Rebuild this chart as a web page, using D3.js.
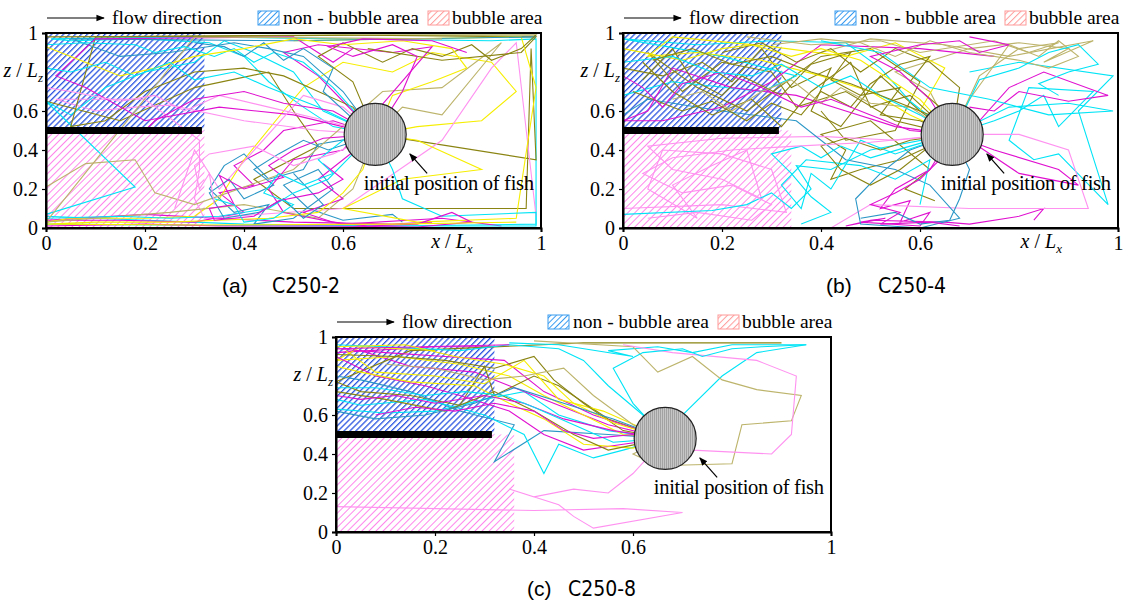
<!DOCTYPE html>
<html>
<head>
<meta charset="utf-8">
<script src="https://cdn.jsdelivr.net/npm/d3@7"></script>
<style>
	body { margin: 0; background: #fff; }
</style>
</head>
<body>
<div id="vis"></div>
<script>
// declare constants
const FRAME_WIDTH = 1123;
const FRAME_HEIGHT = 602;
const VIS_WIDTH = 495;
const VIS_HEIGHT = 195;
const SERIF = "Liberation Serif, Times New Roman, serif";

// axis ticks
const X_TICKS = [0, 0.2, 0.4, 0.6, 1];
const Y_TICKS = [0, 0.2, 0.4, 0.6, 1];

// regions (x/Lx, z/Lz)
const NON_BUBBLE_A = [[0, 0.5], [0.32, 1]];
const NON_BUBBLE_B = [[0, 0.5], [0.32, 1]];
const NON_BUBBLE_C = [[0, 0.5], [0.32, 1]];
const BUBBLE_A = [[0, 0], [0.32, 0.5]];
const BUBBLE_B = [[0, 0], [0.34, 0.5]];
const BUBBLE_C = [[0, 0], [0.36, 0.5]];
const PLATE = [[0, 0.5], [0.315, 0.5]];
const FISH_POS = [0.665, 0.48];
const ARROW_FROM = [0.77, 0.28];
const ARROW_TO = [0.735, 0.38];
const FISH_LABEL_POS = [0.642, 0.195];

// colours of the fish tracks
const COLORS = {
	cyan: "#00e4f6",
	magenta: "#e010d0",
	yellow: "#f6ee00",
	olive: "#8a8412",
	khaki: "#bdb46c",
	pink: "#ff92f0",
	teal: "#2a96c6"
};

// tracks, case C250-2
const TRACKS_A = [
	{c: "cyan", p: [[0.665,0.48],[0.58,0.52],[0.52,0.62],[0.45,0.75],[0.40,0.88],[0.33,0.95],[0.20,0.97],[0.05,0.96],[0.01,0.97],[0.30,0.98],[0.60,0.97],[0.90,0.96],[0.99,0.97],[0.99,0.02],[0.70,0.01],[0.40,0.02],[0.10,0.05],[0.0,0.06]]},
	{c: "magenta", p: [[0.665,0.48],[0.58,0.55],[0.48,0.50],[0.44,0.40],[0.38,0.32],[0.42,0.22],[0.35,0.18],[0.40,0.08],[0.30,0.03],[0.15,0.04],[0.0,0.04],[0.20,0.07],[0.50,0.03],[0.70,0.02],[0.78,0.03]]},
	{c: "yellow", p: [[0.665,0.48],[0.75,0.52],[0.88,0.55],[0.95,0.70],[0.90,0.85],[0.78,0.90],[0.70,0.80],[0.60,0.85],[0.52,0.72],[0.48,0.60],[0.40,0.35],[0.35,0.15],[0.30,0.06],[0.20,0.05],[0.05,0.05],[0.0,0.03]]},
	{c: "olive", p: [[0.665,0.48],[0.99,0.35],[0.98,0.92],[0.97,0.10],[0.50,0.10],[0.42,0.25],[0.55,0.42],[0.50,0.60],[0.45,0.80],[0.30,0.72],[0.15,0.55],[0.0,0.65]]},
	{c: "teal", p: [[0.665,0.48],[0.55,0.43],[0.52,0.30],[0.45,0.25],[0.40,0.38],[0.36,0.32],[0.33,0.20],[0.38,0.08],[0.45,0.12],[0.42,0.02],[0.50,0.05],[0.58,0.20],[0.55,0.30],[0.48,0.22],[0.53,0.10],[0.60,0.04],[0.70,0.07],[0.72,0.03]]},
	{c: "pink", p: [[0.665,0.48],[0.55,0.50],[0.40,0.55],[0.25,0.63],[0.18,0.62],[0.10,0.60],[0.02,0.66],[0.20,0.66],[0.31,0.45],[0.31,0.30],[0.30,0.15],[0.32,0.05],[0.60,0.10],[0.80,0.45],[0.90,0.82],[0.95,0.95],[0.99,0.06]]},
	{c: "khaki", p: [[0.665,0.48],[0.72,0.62],[0.80,0.58],[0.92,0.95],[0.80,0.72],[0.68,0.70],[0.50,0.30],[0.30,0.12],[0.22,0.18],[0.18,0.35],[0.08,0.33],[0.0,0.21]]},
	{c: "cyan", p: [[0.665,0.48],[0.56,0.60],[0.50,0.80],[0.42,0.90],[0.36,0.96],[0.30,0.85],[0.20,0.80],[0.12,0.72],[0.05,0.58],[0.0,0.65],[0.18,0.21],[0.0,0.07]]},
	{c: "magenta", p: [[0.665,0.48],[0.60,0.65],[0.55,0.78],[0.48,0.90],[0.55,0.94],[0.70,0.90],[0.78,0.93],[0.60,0.40],[0.50,0.35],[0.45,0.20],[0.48,0.08],[0.60,0.02],[0.80,0.05],[0.92,0.01]]},
	{c: "olive", p: [[0.665,0.48],[0.62,0.62],[0.55,0.70],[0.48,0.78],[0.40,0.82],[0.30,0.80],[0.20,0.70],[0.12,0.55],[0.05,0.52],[0.10,0.98],[0.60,0.99],[0.99,0.98],[0.96,0.90],[0.80,0.86],[0.65,0.92]]},
	{c: "yellow", p: [[0.665,0.48],[0.75,0.45],[0.88,0.30],[0.72,0.25],[0.60,0.10],[0.75,0.03],[0.95,0.05],[0.99,0.72],[0.96,0.98],[0.50,0.96]]},
	{c: "teal", p: [[0.665,0.48],[0.60,0.70],[0.52,0.88],[0.45,0.92],[0.38,0.95],[0.25,0.90],[0.15,0.88],[0.05,0.97],[0.50,0.96],[0.99,0.98]]},
	{c: "magenta", p: [[0.665,0.48],[0.50,0.58],[0.35,0.62],[0.20,0.55],[0.08,0.72],[0.02,0.78],[0.10,0.97],[0.50,0.98],[0.58,0.85],[0.62,0.92]]},
	{c: "cyan", p: [[0.665,0.48],[0.70,0.30],[0.72,0.15],[0.80,0.06],[0.99,0.08],[0.99,0.01],[0.50,0.01],[0.0,0.02]]},
	{c: "pink", p: [[0.665,0.48],[0.60,0.62],[0.52,0.68],[0.35,0.20],[0.30,0.40],[0.28,0.25],[0.26,0.10]]},
	{c: "khaki", p: [[0.665,0.48],[0.62,0.20],[0.55,0.05],[0.40,0.12],[0.25,0.08],[0.0,0.03],[0.30,0.98],[0.80,0.97]]},
	{c: "olive", p: [[0.665,0.48],[0.62,0.75],[0.55,0.88],[0.60,0.95],[0.68,0.85],[0.74,0.92],[0.80,0.88],[0.86,0.94],[0.90,0.86],[0.96,0.92],[0.99,0.99],[0.70,0.99],[0.40,0.985],[0.0,0.98]]},
	{c: "cyan", p: [[0.665,0.48],[0.58,0.72],[0.52,0.85],[0.46,0.90],[0.42,0.85],[0.38,0.92],[0.34,0.88],[0.28,0.93],[0.22,0.90],[0.18,0.94],[0.08,0.95],[0.0,0.94]]},
	{c: "teal", p: [[0.665,0.48],[0.62,0.56],[0.56,0.70],[0.58,0.82],[0.52,0.92],[0.48,0.86],[0.44,0.95],[0.40,0.88],[0.36,0.93],[0.30,0.95]]},
	{c: "yellow", p: [[0.665,0.48],[0.70,0.68],[0.78,0.75],[0.85,0.82],[0.82,0.92],[0.72,0.96],[0.60,0.94],[0.50,0.97],[0.40,0.92],[0.30,0.88],[0.22,0.82],[0.15,0.78],[0.05,0.88],[0.0,0.93]]},
	{c: "magenta", p: [[0.665,0.48],[0.72,0.70],[0.75,0.88],[0.70,0.94],[0.62,0.88],[0.57,0.93],[0.64,0.97],[0.78,0.96],[0.85,0.90]]},
	{c: "magenta", p: [[0.665,0.48],[0.60,0.35],[0.55,0.25],[0.60,0.15],[0.52,0.08],[0.58,0.03],[0.65,0.01],[0.75,0.02],[0.82,0.08],[0.86,0.03],[0.75,0.005],[0.55,0.01],[0.35,0.01],[0.20,0.02],[0.0,0.01]]},
	{c: "cyan", p: [[0.665,0.48],[0.62,0.38],[0.57,0.25],[0.50,0.18],[0.45,0.10],[0.35,0.06],[0.25,0.05],[0.15,0.06],[0.0,0.05]]},
	{c: "yellow", p: [[0.665,0.48],[0.64,0.30],[0.60,0.18],[0.55,0.08],[0.45,0.05],[0.35,0.04],[0.25,0.03],[0.10,0.03],[0.0,0.02],[0.30,0.015],[0.70,0.02],[0.95,0.03]]},
	{c: "teal", p: [[0.665,0.48],[0.57,0.40],[0.52,0.45],[0.47,0.38],[0.42,0.30],[0.46,0.22],[0.40,0.15],[0.37,0.25],[0.33,0.18],[0.36,0.05],[0.43,0.08],[0.48,0.15],[0.52,0.05],[0.56,0.12],[0.50,0.28]]},
	{c: "magenta", p: [[0.665,0.48],[0.56,0.46],[0.50,0.40],[0.45,0.32],[0.48,0.26],[0.40,0.20],[0.35,0.27],[0.38,0.12],[0.33,0.10],[0.34,0.04],[0.42,0.06],[0.47,0.14],[0.55,0.18],[0.60,0.25],[0.56,0.33]]},
	{c: "cyan", p: [[0.665,0.48],[0.60,0.45],[0.55,0.35],[0.58,0.28],[0.52,0.22],[0.47,0.28],[0.44,0.18],[0.50,0.12],[0.46,0.05],[0.40,0.03],[0.38,0.12],[0.34,0.15]]},
	{c: "pink", p: [[0.665,0.48],[0.58,0.38],[0.50,0.32],[0.42,0.42],[0.33,0.38],[0.30,0.32],[0.31,0.20],[0.33,0.28],[0.34,0.12]]},
	{c: "pink", p: [[0.665,0.48],[0.55,0.56],[0.45,0.62],[0.35,0.68],[0.28,0.60],[0.22,0.68],[0.15,0.65],[0.05,0.70],[0.0,0.72]]},
	{c: "cyan", p: [[0.665,0.48],[0.55,0.62],[0.45,0.72],[0.38,0.80],[0.30,0.76],[0.25,0.85],[0.18,0.78],[0.12,0.85],[0.05,0.80],[0.0,0.82]]},
	{c: "magenta", p: [[0.665,0.48],[0.58,0.60],[0.48,0.64],[0.40,0.70],[0.30,0.66],[0.22,0.55],[0.20,0.50]]}
];

// tracks, case C250-4
const TRACKS_B = [
	{c: "olive", p: [[0.665,0.48],[0.55,0.55],[0.45,0.70],[0.35,0.62],[0.30,0.80],[0.20,0.85],[0.12,0.70],[0.05,0.90],[0.15,0.72],[0.25,0.60],[0.40,0.88],[0.50,0.92],[0.60,0.75],[0.55,0.50],[0.45,0.45],[0.40,0.60]]},
	{c: "olive", p: [[0.665,0.48],[0.60,0.60],[0.52,0.78],[0.44,0.52],[0.38,0.60],[0.42,0.82],[0.34,0.72],[0.28,0.92],[0.22,0.75],[0.16,0.85],[0.08,0.78],[0.0,0.82]]},
	{c: "olive", p: [[0.665,0.48],[0.62,0.42],[0.56,0.35],[0.48,0.30],[0.42,0.25],[0.45,0.40],[0.40,0.48],[0.50,0.55],[0.62,0.30],[0.57,0.20],[0.63,0.14]]},
	{c: "khaki", p: [[0.665,0.48],[0.62,0.70],[0.55,0.80],[0.70,0.92],[0.80,0.95],[0.90,0.92],[0.85,0.85],[0.95,0.96],[0.78,0.88],[0.65,0.94],[0.50,0.97],[0.40,0.90]]},
	{c: "cyan", p: [[0.665,0.48],[0.75,0.55],[0.80,0.60],[0.85,0.68],[0.88,0.52],[0.95,0.70],[0.82,0.72],[0.78,0.45],[0.83,0.35],[0.88,0.38],[0.98,0.12],[0.92,0.60],[0.99,0.78],[0.80,0.85],[0.70,0.80]]},
	{c: "magenta", p: [[0.665,0.48],[0.72,0.55],[0.78,0.72],[0.85,0.80],[0.98,0.68],[0.90,0.65],[0.80,0.70],[0.75,0.60],[0.70,0.62]]},
	{c: "magenta", p: [[0.665,0.48],[0.62,0.30],[0.55,0.20],[0.52,0.10],[0.58,0.14],[0.56,0.03],[0.62,0.08],[0.60,0.01],[0.48,0.03],[0.53,0.05],[0.45,0.01],[0.50,0.04],[0.65,0.03],[0.70,0.02],[0.80,0.06],[0.85,0.10],[0.83,0.04]]},
	{c: "pink", p: [[0.665,0.48],[0.55,0.45],[0.40,0.47],[0.20,0.46],[0.05,0.42],[0.10,0.30],[0.20,0.25],[0.28,0.15],[0.25,0.40],[0.18,0.32],[0.10,0.22],[0.15,0.05],[0.05,0.20],[0.08,0.40],[0.20,0.38],[0.30,0.30],[0.33,0.08],[0.20,0.12],[0.0,0.10]]},
	{c: "pink", p: [[0.665,0.48],[0.80,0.48],[0.90,0.40],[0.94,0.10],[0.70,0.10],[0.50,0.12],[0.42,0.0]]},
	{c: "cyan", p: [[0.665,0.48],[0.50,0.40],[0.42,0.30],[0.35,0.32],[0.38,0.20],[0.34,0.10],[0.30,0.18],[0.25,0.12],[0.18,0.09],[0.0,0.07]]},
	{c: "cyan", p: [[0.665,0.48],[0.58,0.65],[0.52,0.82],[0.45,0.95],[0.30,0.96],[0.15,0.94],[0.0,0.97],[0.20,0.88],[0.35,0.78],[0.28,0.70],[0.10,0.75],[0.0,0.68]]},
	{c: "yellow", p: [[0.665,0.48],[0.58,0.58],[0.50,0.70],[0.40,0.78],[0.28,0.86],[0.15,0.90],[0.05,0.88],[0.10,0.98],[0.30,0.93],[0.45,0.88],[0.55,0.95],[0.65,0.82],[0.60,0.60]]},
	{c: "teal", p: [[0.665,0.48],[0.58,0.40],[0.52,0.28],[0.47,0.15],[0.48,0.02],[0.60,0.0],[0.68,0.05],[0.62,0.22],[0.55,0.30],[0.45,0.35],[0.35,0.55],[0.20,0.60],[0.05,0.66],[0.0,0.58]]},
	{c: "magenta", p: [[0.665,0.48],[0.55,0.52],[0.45,0.60],[0.35,0.68],[0.22,0.72],[0.10,0.82],[0.05,0.60],[0.0,0.55],[0.08,0.55],[0.20,0.62],[0.30,0.75],[0.40,0.94],[0.60,0.92],[0.75,0.88]]},
	{c: "cyan", p: [[0.665,0.48],[0.55,0.38],[0.48,0.45],[0.42,0.20],[0.38,0.28],[0.36,0.10],[0.32,0.22],[0.37,0.35],[0.48,0.32],[0.55,0.25],[0.62,0.35],[0.60,0.12]]},
	{c: "olive", p: [[0.665,0.48],[0.68,0.72],[0.62,0.85],[0.55,0.92],[0.48,0.80],[0.42,0.92],[0.35,0.85],[0.28,0.95],[0.20,0.90]]},
	{c: "khaki", p: [[0.665,0.48],[0.72,0.78],[0.80,0.92],[0.88,0.95],[0.82,0.90],[0.75,0.96],[0.60,0.90],[0.52,0.96],[0.38,0.94],[0.25,0.98]]},
	{c: "olive", p: [[0.665,0.48],[0.58,0.68],[0.50,0.62],[0.46,0.85],[0.38,0.70],[0.32,0.52],[0.26,0.66],[0.18,0.58],[0.10,0.70],[0.04,0.85]]},
	{c: "magenta", p: [[0.665,0.48],[0.75,0.40],[0.88,0.30],[0.92,0.22],[0.80,0.28],[0.70,0.45],[0.60,0.50]]},
	{c: "cyan", p: [[0.665,0.48],[0.78,0.62],[0.90,0.64],[0.99,0.60],[0.86,0.58],[0.74,0.66],[0.62,0.72],[0.52,0.90],[0.40,0.96]]},
	{c: "olive", p: [[0.665,0.48],[0.60,0.55],[0.52,0.58],[0.56,0.72],[0.48,0.68],[0.42,0.76],[0.46,0.90],[0.38,0.84],[0.32,0.68],[0.24,0.78],[0.20,0.68],[0.14,0.76],[0.10,0.92],[0.04,0.76]]},
	{c: "olive", p: [[0.665,0.48],[0.64,0.62],[0.58,0.75],[0.62,0.88],[0.56,0.84],[0.50,0.74],[0.46,0.62],[0.40,0.70],[0.36,0.58],[0.30,0.64],[0.25,0.55],[0.18,0.65],[0.12,0.60],[0.02,0.70]]},
	{c: "khaki", p: [[0.665,0.48],[0.70,0.66],[0.74,0.80],[0.78,0.94],[0.84,0.88],[0.88,0.96],[0.92,0.88],[0.86,0.82],[0.80,0.86],[0.70,0.90],[0.62,0.96],[0.55,0.88],[0.48,0.95],[0.40,0.97],[0.30,0.94]]},
	{c: "khaki", p: [[0.665,0.48],[0.58,0.62],[0.50,0.64],[0.44,0.72],[0.40,0.64],[0.34,0.76],[0.28,0.70],[0.22,0.60],[0.16,0.70],[0.10,0.66]]},
	{c: "yellow", p: [[0.665,0.48],[0.60,0.66],[0.54,0.76],[0.48,0.86],[0.40,0.92],[0.34,0.88],[0.26,0.94],[0.20,0.92],[0.12,0.86],[0.0,0.92]]},
	{c: "magenta", p: [[0.665,0.48],[0.58,0.50],[0.50,0.58],[0.42,0.66],[0.36,0.62],[0.28,0.72],[0.20,0.80],[0.12,0.74],[0.08,0.62],[0.04,0.72],[0.0,0.78]]},
	{c: "magenta", p: [[0.665,0.48],[0.62,0.66],[0.56,0.80],[0.50,0.88],[0.60,0.94],[0.68,0.96],[0.72,0.90],[0.78,0.94],[0.70,0.98]]},
	{c: "cyan", p: [[0.665,0.48],[0.60,0.58],[0.52,0.68],[0.46,0.78],[0.40,0.72],[0.32,0.84],[0.26,0.78],[0.18,0.80],[0.10,0.88],[0.0,0.85]]},
	{c: "cyan", p: [[0.665,0.48],[0.72,0.76],[0.80,0.82],[0.86,0.90],[0.92,0.94],[0.96,0.84],[0.90,0.80],[0.84,0.74],[0.88,0.68]]},
	{c: "cyan", p: [[0.665,0.48],[0.58,0.42],[0.50,0.36],[0.44,0.42],[0.40,0.36],[0.36,0.42],[0.30,0.38],[0.34,0.28],[0.38,0.16],[0.42,0.08],[0.36,0.02]]},
	{c: "teal", p: [[0.665,0.48],[0.70,0.30],[0.68,0.15],[0.66,0.04],[0.60,0.02],[0.55,0.08],[0.48,0.05]]},
	{c: "olive", p: [[0.665,0.48],[0.58,0.45],[0.52,0.40],[0.45,0.46],[0.40,0.42],[0.44,0.30],[0.50,0.22],[0.56,0.30],[0.62,0.42]]},
	{c: "pink", p: [[0.665,0.48],[0.50,0.44],[0.35,0.42],[0.22,0.40],[0.10,0.36],[0.04,0.28],[0.12,0.18],[0.22,0.22],[0.30,0.12],[0.26,0.04],[0.15,0.08],[0.05,0.05]]},
	{c: "magenta", p: [[0.665,0.48],[0.64,0.35],[0.60,0.25],[0.55,0.18],[0.50,0.12],[0.56,0.08],[0.52,0.02],[0.62,0.03],[0.68,0.01]]},
	{c: "olive", p: [[0.665,0.48],[0.62,0.58],[0.54,0.66],[0.46,0.74],[0.38,0.80],[0.30,0.88],[0.22,0.84],[0.14,0.92],[0.06,0.86]]}
];

// tracks, case C250-8
const TRACKS_C = [
	{c: "cyan", p: [[0.665,0.48],[0.55,0.52],[0.45,0.60],[0.38,0.72],[0.30,0.68],[0.20,0.62],[0.10,0.61],[0.0,0.63]]},
	{c: "magenta", p: [[0.665,0.48],[0.55,0.55],[0.45,0.65],[0.35,0.75],[0.28,0.82],[0.15,0.85],[0.05,0.93],[0.0,0.92],[0.20,0.95],[0.32,0.95]]},
	{c: "yellow", p: [[0.665,0.48],[0.58,0.50],[0.50,0.60],[0.42,0.70],[0.35,0.80],[0.25,0.86],[0.12,0.90],[0.0,0.88],[0.05,0.95],[0.20,0.93]]},
	{c: "olive", p: [[0.665,0.48],[0.55,0.58],[0.45,0.75],[0.40,0.80],[0.32,0.70],[0.30,0.85],[0.25,0.65],[0.15,0.70],[0.05,0.72],[0.0,0.77],[0.15,0.93],[0.50,0.97],[0.90,0.97]]},
	{c: "teal", p: [[0.665,0.48],[0.55,0.50],[0.42,0.52],[0.32,0.36],[0.36,0.55],[0.25,0.62],[0.15,0.72],[0.05,0.78],[0.0,0.80]]},
	{c: "cyan", p: [[0.665,0.48],[0.70,0.60],[0.78,0.80],[0.85,0.92],[0.95,0.96],[0.80,0.96],[0.72,0.92],[0.65,0.95],[0.55,0.93],[0.60,0.90],[0.45,0.96],[0.35,0.97]]},
	{c: "khaki", p: [[0.665,0.48],[0.60,0.40],[0.65,0.34],[0.80,0.35],[0.82,0.55],[0.92,0.57],[0.94,0.70],[0.85,0.73],[0.78,0.78],[0.72,0.90],[0.65,0.82],[0.60,0.95],[0.40,0.98]]},
	{c: "pink", p: [[0.665,0.48],[0.72,0.42],[0.88,0.40],[0.92,0.50],[0.93,0.80],[0.85,0.88],[0.68,0.92],[0.58,0.96]]},
	{c: "pink", p: [[0.665,0.48],[0.60,0.30],[0.55,0.20],[0.48,0.22],[0.40,0.18],[0.35,0.22],[0.45,0.14],[0.48,0.08],[0.52,0.02],[0.70,0.10],[0.58,0.12],[0.40,0.11],[0.0,0.13]]},
	{c: "cyan", p: [[0.665,0.48],[0.58,0.42],[0.52,0.38],[0.45,0.45],[0.42,0.30],[0.38,0.50],[0.30,0.60],[0.18,0.68],[0.05,0.65],[0.0,0.68]]},
	{c: "magenta", p: [[0.665,0.48],[0.58,0.45],[0.50,0.42],[0.42,0.50],[0.35,0.62],[0.25,0.70],[0.18,0.75],[0.08,0.80],[0.0,0.90]]},
	{c: "yellow", p: [[0.665,0.48],[0.60,0.43],[0.50,0.45],[0.42,0.58],[0.35,0.66],[0.28,0.75],[0.15,0.77],[0.05,0.82],[0.0,0.85]]},
	{c: "olive", p: [[0.665,0.48],[0.55,0.42],[0.48,0.50],[0.40,0.62],[0.32,0.72],[0.22,0.62],[0.10,0.68],[0.0,0.72]]},
	{c: "cyan", p: [[0.665,0.48],[0.62,0.60],[0.55,0.75],[0.50,0.88],[0.45,0.94],[0.35,0.96],[0.25,0.93],[0.10,0.95],[0.0,0.96]]},
	{c: "magenta", p: [[0.665,0.48],[0.52,0.60],[0.42,0.72],[0.34,0.88],[0.22,0.90],[0.10,0.92],[0.0,0.94],[0.35,0.96]]},
	{c: "yellow", p: [[0.665,0.48],[0.54,0.62],[0.45,0.68],[0.38,0.88],[0.30,0.76],[0.20,0.80],[0.08,0.82],[0.02,0.93]]},
	{c: "magenta", p: [[0.665,0.48],[0.56,0.52],[0.46,0.58],[0.38,0.66],[0.30,0.70],[0.20,0.66],[0.12,0.70],[0.05,0.68],[0.0,0.70]]},
	{c: "cyan", p: [[0.665,0.48],[0.56,0.46],[0.48,0.55],[0.40,0.64],[0.34,0.70],[0.26,0.72],[0.18,0.70],[0.08,0.74],[0.0,0.74]]},
	{c: "olive", p: [[0.665,0.48],[0.58,0.52],[0.50,0.66],[0.44,0.78],[0.40,0.90],[0.32,0.84],[0.22,0.88],[0.12,0.90],[0.0,0.91]]},
	{c: "yellow", p: [[0.665,0.48],[0.56,0.56],[0.48,0.66],[0.42,0.80],[0.34,0.86],[0.24,0.90],[0.14,0.96],[0.0,0.95]]},
	{c: "teal", p: [[0.665,0.48],[0.56,0.58],[0.46,0.66],[0.36,0.74],[0.28,0.66],[0.18,0.60],[0.08,0.58],[0.0,0.62]]},
	{c: "khaki", p: [[0.665,0.48],[0.60,0.55],[0.52,0.70],[0.46,0.84],[0.38,0.80],[0.30,0.78],[0.20,0.84],[0.10,0.86]]},
	{c: "cyan", p: [[0.665,0.48],[0.60,0.66],[0.56,0.84],[0.62,0.92],[0.70,0.94],[0.74,0.90],[0.80,0.94],[0.86,0.95],[0.95,0.96]]},
	{c: "magenta", p: [[0.665,0.48],[0.60,0.50],[0.52,0.48],[0.46,0.52],[0.40,0.62],[0.32,0.66],[0.24,0.62],[0.16,0.64],[0.08,0.60]]}
];

// panel layout
const PANELS = [
	{x0: 46, y0: 33, tracks: TRACKS_A, nb: NON_BUBBLE_A, b: BUBBLE_A, tag: "(a)", code: "C250-2", tagX: 222, codeX: 272, capY: 293, xlab: 0.82},
	{x0: 623, y0: 33, tracks: TRACKS_B, nb: NON_BUBBLE_B, b: BUBBLE_B, tag: "(b)", code: "C250-4", tagX: 826, codeX: 878, capY: 293, xlab: 0.845},
	{x0: 336, y0: 337, tracks: TRACKS_C, nb: NON_BUBBLE_C, b: BUBBLE_C, tag: "(c)", code: "C250-8", tagX: 527, codeX: 568, capY: 596, xlab: null}
];

const SVG = d3.select("#vis")
	.append("svg")
		.attr("width", FRAME_WIDTH)
		.attr("height", FRAME_HEIGHT)
		.attr("font-family", SERIF);

// patterns
const DEFS = SVG.append("defs");

function hatch(id, color, gap, width) {
	const p = DEFS.append("pattern")
		.attr("id", id)
		.attr("patternUnits", "userSpaceOnUse")
		.attr("width", gap)
		.attr("height", gap)
		.attr("patternTransform", "rotate(45)");
	p.append("rect").attr("width", gap).attr("height", gap).attr("fill", "#fff");
	p.append("line")
		.attr("x1", 0.5).attr("y1", 0).attr("x2", 0.5).attr("y2", gap)
		.attr("stroke", color)
		.attr("stroke-width", width);
}
hatch("hatchBlue", "#2b55e0", 4.2, 1.6);
hatch("hatchPink", "#ff86ec", 5, 1);
hatch("legBlue", "#3b9cf0", 4, 1);
hatch("legPink", "#ff9a9a", 4.5, 1);

const FISH_PAT = DEFS.append("pattern")
	.attr("id", "fishFill")
	.attr("patternUnits", "userSpaceOnUse")
	.attr("width", 2)
	.attr("height", 2);
FISH_PAT.append("rect").attr("width", 2).attr("height", 2).attr("fill", "#c6c6c6");
FISH_PAT.append("rect").attr("width", 1).attr("height", 2).attr("fill", "#a2a2a2");

DEFS.append("marker")
	.attr("id", "arrowHead")
	.attr("viewBox", "0 0 10 10")
	.attr("refX", 9)
	.attr("refY", 5)
	.attr("markerWidth", 7)
	.attr("markerHeight", 7)
	.attr("orient", "auto")
	.append("path")
		.attr("d", "M0,1 L10,5 L0,9 Z")
		.attr("fill", "#000");

// draw each panel
PANELS.forEach((P) => {
	const X_SCALE = d3.scaleLinear().domain([0, 1]).range([0, VIS_WIDTH]);
	const Y_SCALE = d3.scaleLinear().domain([0, 1]).range([VIS_HEIGHT, 0]);

	const G = SVG.append("g")
		.attr("transform", "translate(" + P.x0 + "," + P.y0 + ")");

	// hatched areas
	[[P.nb, "hatchBlue"], [P.b, "hatchPink"]].forEach(([r, id]) => {
		G.append("rect")
			.attr("x", X_SCALE(r[0][0]))
			.attr("y", Y_SCALE(r[1][1]))
			.attr("width", X_SCALE(r[1][0]) - X_SCALE(r[0][0]))
			.attr("height", Y_SCALE(r[0][1]) - Y_SCALE(r[1][1]))
			.attr("fill", "url(#" + id + ")");
	});

	// fish tracks
	const LINE = d3.line()
		.x((d) => X_SCALE(d[0]))
		.y((d) => Y_SCALE(d[1]));

	G.selectAll(".track")
		.data(P.tracks)
		.enter()
		.append("path")
			.attr("class", "track")
			.attr("d", (d) => LINE(d.p))
			.attr("fill", "none")
			.attr("stroke", (d) => COLORS[d.c])
			.attr("stroke-width", 1.1);

	// plate
	G.append("line")
		.attr("x1", X_SCALE(PLATE[0][0]))
		.attr("y1", Y_SCALE(PLATE[0][1]))
		.attr("x2", X_SCALE(PLATE[1][0]))
		.attr("y2", Y_SCALE(PLATE[1][1]))
		.attr("stroke", "#000")
		.attr("stroke-width", 7);

	// fish
	G.append("circle")
		.attr("cx", X_SCALE(FISH_POS[0]))
		.attr("cy", Y_SCALE(FISH_POS[1]))
		.attr("r", 31)
		.attr("fill", "url(#fishFill)")
		.attr("stroke", "#222")
		.attr("stroke-width", 1.2);

	G.append("line")
		.attr("x1", X_SCALE(ARROW_FROM[0]))
		.attr("y1", Y_SCALE(ARROW_FROM[1]))
		.attr("x2", X_SCALE(ARROW_TO[0]))
		.attr("y2", Y_SCALE(ARROW_TO[1]))
		.attr("stroke", "#000")
		.attr("stroke-width", 1.2)
		.attr("marker-end", "url(#arrowHead)");

	G.append("text")
		.attr("x", X_SCALE(FISH_LABEL_POS[0]))
		.attr("y", Y_SCALE(FISH_LABEL_POS[1]))
		.attr("font-size", "20.5px")
		.attr("letter-spacing", "-0.3")
		.text("initial position of fish");

	// frame
	G.append("rect")
		.attr("width", VIS_WIDTH)
		.attr("height", VIS_HEIGHT)
		.attr("fill", "none")
		.attr("stroke", "#000")
		.attr("stroke-width", 2);

	// axes
	const XA = G.append("g")
		.attr("transform", "translate(0," + VIS_HEIGHT + ")")
		.call(d3.axisBottom(X_SCALE).tickValues(X_TICKS).tickSize(4).tickPadding(4).tickFormat(d3.format("")));
	const YA = G.append("g")
		.call(d3.axisLeft(Y_SCALE).tickValues(Y_TICKS).tickSize(4).tickPadding(4).tickFormat(d3.format("")));
	[XA, YA].forEach((A) => {
		A.attr("font-family", SERIF).attr("font-size", 20);
		A.select(".domain").attr("stroke-width", 2);
		A.selectAll(".tick line").attr("stroke-width", 1.2);
		A.selectAll("text").attr("fill", "#000");
	});

	// axis titles
	const ZT = G.append("text")
		.attr("x", -3)
		.attr("y", Y_SCALE(0.79) + 3)
		.attr("text-anchor", "end")
		.attr("font-size", "20px");
	ZT.append("tspan").attr("font-style", "italic").text("z");
	ZT.append("tspan").text(" / ");
	ZT.append("tspan").attr("font-style", "italic").text("L");
	ZT.append("tspan").attr("font-style", "italic").attr("font-size", "13px").attr("dy", 5).text("z");

	if (P.xlab !== null) {
		const XT = G.append("text")
			.attr("x", X_SCALE(P.xlab))
			.attr("y", VIS_HEIGHT + 20)
			.attr("text-anchor", "middle")
			.attr("font-size", "20px");
		XT.append("tspan").attr("font-style", "italic").text("x");
		XT.append("tspan").text(" / ");
		XT.append("tspan").attr("font-style", "italic").text("L");
		XT.append("tspan").attr("font-style", "italic").attr("font-size", "13px").attr("dy", 5).text("x");
	}

	// legend
	const LY = -15;
	G.append("line")
		.attr("x1", 1).attr("y1", LY).attr("x2", 58).attr("y2", LY)
		.attr("stroke", "#000")
		.attr("stroke-width", 1.2)
		.attr("marker-end", "url(#arrowHead)");
	G.append("text").attr("x", 66).attr("y", LY + 6).attr("font-size", "19.5px").text("flow direction");

	G.append("rect")
		.attr("x", 212).attr("y", LY - 7).attr("width", 21).attr("height", 14)
		.attr("fill", "url(#legBlue)").attr("stroke", "#3b9cf0").attr("stroke-width", 1);
	G.append("text").attr("x", 237).attr("y", LY + 6).attr("font-size", "19.5px").text("non - bubble area");

	G.append("rect")
		.attr("x", 382).attr("y", LY - 7).attr("width", 21).attr("height", 14)
		.attr("fill", "url(#legPink)").attr("stroke", "#ff9a9a").attr("stroke-width", 1);
	G.append("text").attr("x", 406).attr("y", LY + 6).attr("font-size", "19.5px").text("bubble area");

	// caption
	SVG.append("text")
		.attr("x", P.tagX).attr("y", P.capY)
		.attr("font-family", "Liberation Sans, Arial, sans-serif")
		.attr("font-size", "21px")
		.text(P.tag);
	SVG.append("text")
		.attr("x", P.codeX).attr("y", P.capY)
		.attr("font-family", "Liberation Sans Narrow, DejaVu Sans Condensed, sans-serif")
		.attr("font-size", "21px")
		.text(P.code);
});
</script>
</body>
</html>
